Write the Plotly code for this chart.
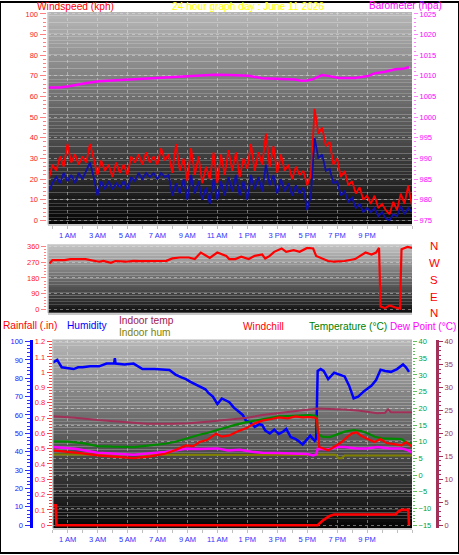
import plotly.graph_objects as go

W, H = 459, 555
FONT = "Liberation Sans, Arial, sans-serif"

# ---------------- data ----------------
# Panel 1: wind (kph), samples every 15 min starting 23:45 previous day
wind_start, wind_step = -0.25, 0.25
wind_gust = [20, 27, 24, 31, 26, 37, 28, 32, 27, 31,
             28, 37, 30, 22, 29, 24, 27, 21, 28, 23,
             27, 22, 31, 28, 32, 27, 33, 28, 31, 27,
             35, 29, 32, 23, 37, 24, 30, 19, 35, 22,
             31, 18, 26, 20, 33, 18, 32, 22, 34, 24,
             33, 21, 30, 25, 37, 24, 33, 27, 42, 26,
             36, 23, 32, 24, 27, 20, 26, 22, 24, 17,
             22, 54, 42, 45, 36, 38, 27, 30, 21, 24,
             17, 19, 13, 16, 10, 12, 8, 12, 6, 8,
             5, 3, 9, 5, 13, 8, 17, 7]
wind_speed = [14, 18, 21, 18, 23, 19, 22, 18, 23, 20,
              24, 28, 21, 12, 19, 15, 19, 15, 18, 16,
              19, 15, 21, 19, 23, 20, 23, 21, 23, 20,
              23, 21, 22, 12, 18, 13, 20, 10, 22, 13,
              19, 10, 16, 8, 20, 10, 19, 12, 21, 14,
              22, 12, 19, 10, 22, 15, 21, 14, 27, 17,
              22, 13, 20, 14, 18, 12, 17, 13, 16, 5,
              12, 40, 30, 32, 24, 25, 18, 19, 12, 14,
              9, 11, 6, 8, 4, 6, 4, 6, 2, 4,
              1, 0, 3, 2, 7, 3, 6, 4]
wind_time = [wind_start + wind_step * i for i in range(len(wind_gust))]

baro_time = [-0.3, 0.5, 1.1, 1.6, 2.2, 3.1, 4.0, 4.9, 6.0, 7.0,
             8.5, 9.8, 10.8, 11.8, 13.1, 14.0, 15.1, 16.2, 16.6, 17.0,
             17.4, 17.7, 18.0, 18.4, 19.1, 20.2, 21.1, 21.5, 22.2, 22.9,
             23.4, 23.7, 23.8]
barometer = [1007.2, 1007.2, 1007.5, 1007.9, 1008.2, 1008.7, 1008.9, 1009.0, 1009.2, 1009.4,
             1009.8, 1010.2, 1010.3, 1010.2, 1010.0, 1009.4, 1009.2, 1009.1, 1008.8, 1008.9,
             1009.2, 1009.8, 1010.2, 1010.0, 1009.5, 1009.5, 1010.0, 1010.6, 1011.0, 1011.6,
             1011.7, 1012.0, 1012.0]

# Panel 2: wind direction (degrees)
dir_time = [-0.2, 0.0, 0.8, 1.2, 2.2, 2.7, 3.1, 3.4, 3.9, 4.2,
            4.9, 5.4, 5.8, 7.6, 8.0, 8.5, 9.1, 9.5, 9.9, 10.5,
            10.8, 11.0, 11.6, 11.8, 12.2, 12.6, 13.1, 13.5, 14.0, 14.2,
            14.5, 14.8, 15.3, 15.6, 16.1, 16.5, 17.0, 17.4, 17.6, 18.1,
            18.4, 18.8, 19.5, 20.2, 20.6, 20.9, 21.3, 21.6, 21.8, 21.9,
            22.2, 22.5, 22.9, 23.2, 23.3, 23.7, 24.0]
wind_dir = [262, 281, 281, 287, 287, 277, 272, 277, 266, 276,
            272, 277, 275, 277, 291, 296, 296, 287, 324, 294,
            313, 324, 305, 287, 287, 300, 287, 305, 313, 290,
            305, 328, 347, 328, 337, 328, 350, 347, 305, 287,
            276, 272, 276, 287, 309, 324, 313, 324, 350, 19,
            9, 24, 13, 6, 343, 356, 350]
dir_labels = ["N", "W", "S", "E", "N"]

# Panel 3
hum_time = [0.0, 0.3, 0.6, 1.0, 1.4, 1.7, 2.0, 2.5, 3.1, 3.6,
            4.1, 4.15, 4.2, 4.8, 5.4, 6.0, 6.8, 7.8, 8.2, 8.6,
            8.9, 9.2, 9.6, 9.9, 10.2, 10.4, 10.7, 11.0, 11.3, 11.8,
            12.1, 12.4, 12.7, 12.9, 13.2, 13.5, 13.8, 14.0, 14.2, 14.5,
            14.8, 15.1, 15.4, 15.6, 15.9, 16.2, 16.4, 16.7, 17.0, 17.2,
            17.5, 17.6, 17.7, 17.9, 18.1, 18.4, 18.8, 19.1, 19.5, 19.8,
            20.1, 20.4, 20.8, 21.3, 21.6, 21.9, 22.2, 22.6, 23.0, 23.4,
            23.6, 23.8]
humidity = [88.5, 90, 86, 85.5, 85, 86, 86, 86.5, 86.5, 88,
            88, 91, 88, 87.5, 88, 85, 85, 84.5, 82, 80.5,
            79.5, 78, 76.5, 75, 74, 72, 70, 66, 69, 67,
            64, 62, 60, 57, 56, 53.5, 55, 54.5, 51.5, 50,
            52, 49.7, 51, 52.4, 48, 47, 46, 44, 47, 48.8,
            46, 47, 84, 85, 84, 79.5, 83, 82, 81, 76,
            69, 70, 73, 76, 79, 84.7, 84, 83.5, 85, 87.5,
            86, 83.5]

indoor_hum_time = [0.0, 6.0, 12.0, 17.6, 17.8, 18.9, 19.1, 19.3, 19.5, 24.0]
indoor_hum = [38.5, 38.3, 38.2, 38.2, 38.5, 38.3, 36.5, 36.5, 38.0, 38.0]

indoor_temp_time = [0.0, 1.5, 3.0, 4.5, 6.3, 8.0, 9.1, 10.5, 11.8, 13.0,
                    14.0, 15.0, 16.2, 17.0, 17.7, 18.5, 19.5, 20.5, 21.7, 22.2,
                    22.4, 22.6, 23.0, 24.0]
indoor_temp = [23.7, 23.4, 22.9, 22.5, 22.1, 22.1, 22.2, 22.6, 23.1, 23.4,
               24.0, 24.4, 24.9, 25.2, 25.4, 25.3, 25.2, 24.9, 24.4, 24.5,
               25.2, 24.6, 24.6, 24.6]

temp_time = [0.0, 1.0, 2.0, 3.0, 4.0, 5.4, 6.5, 7.5, 8.2, 8.9,
             9.3, 9.8, 10.3, 10.9, 11.3, 11.8, 12.3, 12.9, 13.5, 14.0,
             14.6, 15.1, 15.7, 16.2, 16.7, 17.1, 17.5, 17.65, 17.7, 18.0,
             18.5, 19.0, 19.5, 20.1, 20.6, 21.1, 21.5, 22.0, 22.5, 23.0,
             23.3, 23.6, 24.0]
temperature = [10.1, 10.0, 9.6, 8.7, 8.5, 8.4, 8.9, 9.4, 10.0, 10.9,
               11.6, 12.1, 12.6, 13.4, 13.9, 14.6, 15.2, 15.8, 16.3, 16.8,
               17.2, 17.6, 17.7, 17.8, 18.0, 18.0, 17.8, 17.4, 12.5, 11.5,
               11.4, 12.2, 13.0, 13.5, 13.2, 12.4, 11.5, 11.0, 11.0, 11.0,
               10.8, 9.8, 9.4]

wc_time = [0.0, 1.0, 2.0, 3.0, 4.0, 5.4, 6.5, 7.5, 8.2, 8.9,
           9.4, 9.8, 10.3, 10.9, 11.3, 11.8, 12.3, 12.9, 13.5, 14.0,
           14.6, 15.1, 15.7, 16.2, 16.7, 17.1, 17.5, 17.65, 17.8, 18.1,
           18.4, 18.8, 19.3, 19.7, 20.0, 20.3, 20.6, 21.0, 21.5, 21.9,
           22.3, 22.8, 23.3, 23.6, 24.0]
windchill = [7.4, 7.0, 6.5, 5.9, 5.5, 5.1, 5.6, 6.4, 7.5, 8.9,
             8.7, 9.9, 10.5, 12.4, 11.5, 11.9, 13.0, 14.0, 15.5, 16.3,
             16.8, 17.3, 17.0, 17.6, 17.3, 17.4, 17.2, 16.8, 8.4, 7.8,
             7.4, 8.5, 9.9, 11.5, 12.5, 12.8, 11.8, 10.9, 9.9, 10.8,
             9.6, 9.3, 8.9, 9.9, 8.5]

dew_time = [0.0, 1.5, 3.0, 4.5, 5.4, 7.5, 8.9, 9.8, 11.0, 11.7,
            12.5, 13.3, 14.0, 15.0, 16.2, 17.0, 17.4, 17.6, 17.7, 18.4,
            19.0, 19.5, 20.3, 21.0, 21.7, 22.5, 23.3, 23.7, 24.0]
dew_point = [8.4, 7.9, 6.7, 6.3, 6.1, 6.9, 7.9, 7.8, 8.0, 7.4,
             7.6, 7.0, 6.7, 6.6, 6.4, 6.3, 5.9, 6.2, 7.9, 7.7,
             8.4, 8.4, 8.0, 8.0, 8.4, 8.0, 8.0, 7.5, 6.7]

rain_time = [0.0, 0.2, 0.25, 17.7, 17.8, 18.1, 18.5, 18.8, 22.9, 23.1, 23.3, 23.75, 23.8]
rainfall = [0.13, 0.13, 0.0, 0.0, 0.01, 0.035, 0.06, 0.07, 0.07, 0.09, 0.1, 0.1, 0.0]

hour_ticks = [1, 3, 5, 7, 9, 11, 13, 15, 17, 19, 21]
hour_labels = ["1 AM", "3 AM", "5 AM", "7 AM", "9 AM", "11 AM",
               "1 PM", "3 PM", "5 PM", "7 PM", "9 PM"]
rain_ticks = [0, 0.1, 0.2, 0.3, 0.4, 0.5, 0.6, 0.7, 0.8, 0.9, 1.0, 1.1, 1.2]


# ---------------- helpers ----------------
def fx(p):
    return p / W


def fy(p):
    return 1 - p / H


GRID = "rgba(230,230,230,0.45)"

fig = go.Figure()

# Panel 1 traces
fig.add_trace(go.Scatter(x=wind_time, y=wind_gust, mode="lines",
                         line=dict(color="#ff0000", width=1.8), xaxis="x", yaxis="y"))
fig.add_trace(go.Scatter(x=wind_time, y=wind_speed, mode="lines",
                         line=dict(color="#1010a8", width=1.8), xaxis="x", yaxis="y"))
fig.add_trace(go.Scatter(x=baro_time, y=barometer, mode="lines",
                         line=dict(color="#ff00ff", width=2.5), xaxis="x", yaxis="y2"))
# Panel 2
fig.add_trace(go.Scatter(x=dir_time, y=wind_dir, mode="lines",
                         line=dict(color="#ff0000", width=2.2), xaxis="x2", yaxis="y3"))
# Panel 3
fig.add_trace(go.Scatter(x=rain_time, y=rainfall, mode="lines",
                         line=dict(color="#ff0000", width=2.6), xaxis="x3", yaxis="y4"))
fig.add_trace(go.Scatter(x=indoor_hum_time, y=indoor_hum, mode="lines",
                         line=dict(color="#808000", width=2), xaxis="x3", yaxis="y5"))
fig.add_trace(go.Scatter(x=hum_time, y=humidity, mode="lines",
                         line=dict(color="#0000ff", width=2.5), xaxis="x3", yaxis="y5"))
fig.add_trace(go.Scatter(x=dew_time, y=dew_point, mode="lines",
                         line=dict(color="#ff00ff", width=2.5), xaxis="x3", yaxis="y6"))
fig.add_trace(go.Scatter(x=temp_time, y=temperature, mode="lines",
                         line=dict(color="#008800", width=2.2), xaxis="x3", yaxis="y6"))
fig.add_trace(go.Scatter(x=wc_time, y=windchill, mode="lines",
                         line=dict(color="#ff0000", width=2.2), xaxis="x3", yaxis="y6"))
fig.add_trace(go.Scatter(x=indoor_temp_time, y=indoor_temp, mode="lines",
                         line=dict(color="#a03058", width=2), xaxis="x3", yaxis="y7"))

tickfont = lambda c: dict(family=FONT, size=7.5, color=c)

xcommon = dict(tickmode="array", tickvals=hour_ticks, ticktext=hour_labels,
               showgrid=True, gridcolor=GRID, griddash="dot", gridwidth=1,
               ticks="outside", ticklen=3, tickcolor="#c0c0c0",
               minor=dict(tickmode="linear", tick0=0, dtick=1, ticks="outside",
                          ticklen=3, tickcolor="#c0c0c0", showgrid=False),
               showline=True, linecolor="#c8c8c8", linewidth=1.5,
               zeroline=False, tickfont=tickfont("#3030ff"), fixedrange=True)

d1 = [fy(224), fy(10)]
d2 = [fy(313), fy(244)]
d3 = [fy(530), fy(340)]
xd12 = [fx(48), fx(412)]
xd3 = [fx(52.7), fx(412)]

fig.update_layout(
    width=W, height=H,
    margin=dict(l=0, r=0, t=0, b=0),
    paper_bgcolor="white", plot_bgcolor="rgba(0,0,0,0)",
    showlegend=False,
    font=dict(family=FONT),
    xaxis=dict(domain=xd12, range=[-0.3, 24], anchor="y", **xcommon),
    yaxis=dict(domain=d1, range=[-1.92, 100.96], anchor="free", position=fx(45.5),
               dtick=10, tick0=0, ticks="outside", ticklen=6, tickcolor="#ff8080",
               minor=dict(dtick=2, ticks="outside", ticklen=2.5, tickcolor="#ff8080", showgrid=False),
               showgrid=True, gridcolor=GRID, griddash="dot", zeroline=False,
               showline=False, tickfont=tickfont("#ff2020")),
    yaxis2=dict(domain=d1, range=[974.04, 1025.48], overlaying="y", side="right",
                anchor="free", position=fx(413), dtick=5, tick0=975,
                ticks="outside", ticklen=4, tickcolor="#ff80ff",
                minor=dict(dtick=1, ticks="outside", ticklen=2, tickcolor="#ff80ff", showgrid=False),
                showgrid=False, zeroline=False, showline=False, tickfont=tickfont("#ff00ff")),
    xaxis2=dict(domain=xd12, range=[-0.3, 24], anchor="y3", showticklabels=False,
                showgrid=False, ticks="", showline=True, linecolor="#c8c8c8",
                linewidth=1.5, zeroline=False),
    yaxis3=dict(domain=d2, range=[-17, 371], anchor="free", position=fx(46),
                tickmode="array", tickvals=[0, 90, 180, 270, 360],
                ticks="outside", ticklen=5, tickcolor="#ff8080",
                minor=dict(tickmode="linear", tick0=0, dtick=18, ticks="outside", ticklen=2.5,
                           tickcolor="#ff8080", showgrid=False),
                showgrid=True, gridcolor=GRID, griddash="dot", zeroline=False,
                tickfont=tickfont("#ff2020")),
    xaxis3=dict(domain=xd3, range=[0, 24], anchor="y4", **xcommon),
    yaxis4=dict(domain=d3, range=[-0.0195, 1.2135], anchor="x3", side="left",
                tickmode="array", tickvals=rain_ticks, ticktext=[f"{v:g}" for v in rain_ticks],
                ticks="outside", ticklen=5, tickcolor="#ff4040",
                minor=dict(tickmode="linear", tick0=0, dtick=0.02, ticks="outside", ticklen=3,
                           tickcolor="#ff4040", showgrid=False),
                showgrid=False, zeroline=False, showline=False, tickfont=tickfont("#ff2020")),
    yaxis5=dict(domain=d3, range=[-1.62, 101.08], overlaying="y4", side="left",
                anchor="free", position=fx(30.5), dtick=10, tick0=0,
                ticks="outside", ticklen=5, tickcolor="#3030ff",
                minor=dict(dtick=2, ticks="outside", ticklen=3, tickcolor="#3030ff", showgrid=False),
                showline=True, linecolor="#0000ff", linewidth=3,
                showgrid=False, zeroline=False, tickfont=tickfont("#2020ff")),
    yaxis6=dict(domain=d3, range=[-15.89, 40.59], overlaying="y4", side="right",
                anchor="x3", dtick=5, tick0=0,
                ticks="outside", ticklen=4, tickcolor="#60c060",
                minor=dict(dtick=1, ticks="outside", ticklen=2, tickcolor="#60c060", showgrid=False),
                showgrid=True, gridcolor=GRID, griddash="dot", zeroline=False,
                showline=False, tickfont=tickfont("#00a040")),
    yaxis7=dict(domain=d3, range=[-0.649, 40.43], overlaying="y4", side="right",
                anchor="free", position=fx(437), dtick=5, tick0=0,
                ticks="outside", ticklen=4, tickcolor="#a03058",
                minor=dict(dtick=1, ticks="outside", ticklen=2, tickcolor="#a03058", showgrid=False),
                showline=True, linecolor="#a03058", linewidth=3,
                showgrid=False, zeroline=False, tickfont=tickfont("#a03058")),
)

# ---------------- background gradients ----------------
shapes = []


def gradient(xref, yref, n, top, bottom):
    for i in range(n):
        t = (i + 0.5) / n
        v = int(round(top + (bottom - top) * t))
        shapes.append(dict(type="rect", xref=xref, yref=yref, layer="below",
                           x0=0, x1=1, y0=1 - (i + 1) / n, y1=1 - i / n,
                           fillcolor=f"rgb({v},{v},{v})", line=dict(width=0)))


gradient("x domain", "y domain", 60, 184, 4)
gradient("x2 domain", "y3 domain", 24, 200, 14)
gradient("x3 domain", "y4 domain", 60, 184, 4)

# light frame lines on the left edges
for xr, yr in [("x domain", "y domain"), ("x2 domain", "y3 domain"), ("x3 domain", "y4 domain")]:
    shapes.append(dict(type="line", xref=xr, yref=yr, x0=0, x1=0, y0=0, y1=1,
                       line=dict(color="#c8c8c8", width=1.5), layer="above"))

# outer black border
shapes.append(dict(type="rect", xref="paper", yref="paper", x0=0, x1=1, y0=0, y1=1,
                   line=dict(color="black", width=2), layer="above"))
fig.update_layout(shapes=shapes)

# ---------------- texts ----------------
ann = []


def text(s, px, py, color, size=10.2, anchor="left"):
    ann.append(dict(text=s, x=fx(px), y=fy(py), xref="paper", yref="paper",
                    xanchor=anchor, yanchor="middle", showarrow=False,
                    font=dict(family=FONT, size=size, color=color)))


text("Windspeed (kph)", 35, 4.5, "#ff0000")
text("24 hour graph day : June 11 2026", 170, 4.5, "#ffff00")
text("Barometer (hpa)", 367, 4, "#ff00ff", size=10)

for lab, py in zip(dir_labels, [246, 263, 280, 297, 313]):
    text(lab, 434, py, "#ff0000", size=11.5, anchor="center")

text("Rainfall (.in)", 1, 326, "#ff0000")
text("Humidity", 65, 326, "#0000ff")
text("Indoor temp", 117, 320.5, "#a02050")
text("Indoor hum", 117, 332.5, "#808000")
text("Windchill", 241, 327, "#ff0000")
text("Temperature (°C)", 307, 327, "#008000")
text("Dew Point (°C)", 388, 327, "#ff00ff", size=10)

fig.update_layout(annotations=ann)

fig.write_html("out.html", config={"displayModeBar": False},
               post_script="document.body.style.margin='0';document.body.style.overflow='hidden';")
